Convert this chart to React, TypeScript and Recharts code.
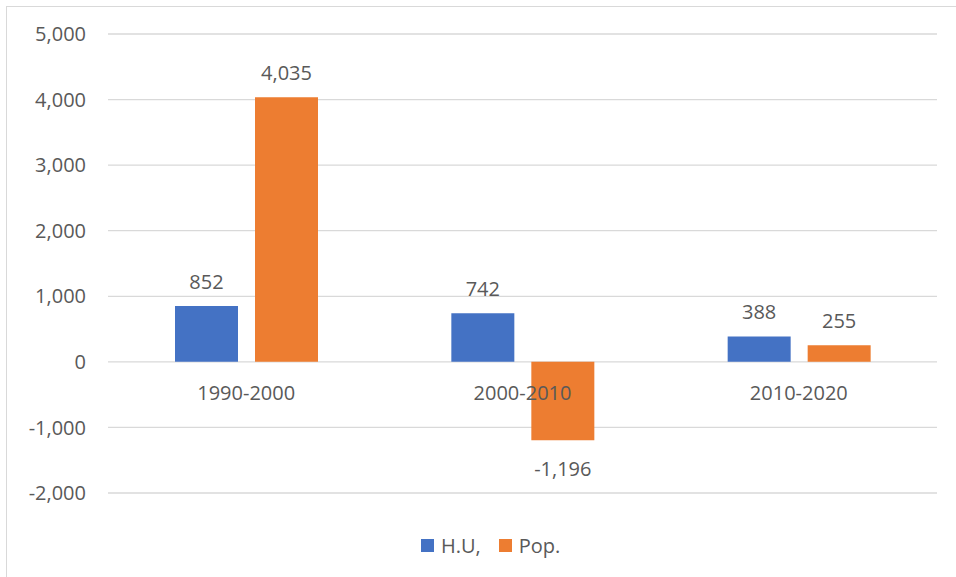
import React from "react";
import { BarChart, Bar, XAxis, YAxis, CartesianGrid, Legend, LabelList } from "recharts";

const categories = ["1990-2000", "2000-2010", "2010-2020"];
const huValues = [852, 742, 388];
const popValues = [4035, -1196, 255];
const yTicks = [-2000, -1000, 0, 1000, 2000, 3000, 4000, 5000];

const data = categories.map((c, i) => ({ period: c, hu: huValues[i], pop: popValues[i] }));

const W = 956;
const H = 577;
const M = { top: 34, right: 19, bottom: 17, left: 48 };
const LEGEND_H = 30;
const XAXIS_H = 37;
const Y_MIN = -2000;
const Y_MAX = 5000;
const plotTop = M.top;
const plotBottom = H - M.bottom - LEGEND_H - XAXIS_H;
const zeroY = plotTop + ((Y_MAX - 0) / (Y_MAX - Y_MIN)) * (plotBottom - plotTop);

const FONT = "'Open Sans', sans-serif";
const TEXT = "#595959";
const fmt = (v: number) => v.toLocaleString("en-US");

const CategoryTick = (props: any) => {
  const { x, payload } = props;
  return (
    <text x={x} y={zeroY + 38.5} textAnchor="middle" fill={TEXT} fontSize={20} fontFamily={FONT}>
      {payload.value}
    </text>
  );
};

const ValueLabel = (props: any) => {
  const { x, y, width, height, value } = props;
  const top = Math.min(y, y + height);
  const bottom = Math.max(y, y + height);
  const cx = x + width / 2;
  const ty = value >= 0 ? top - 17 : bottom + 36;
  return (
    <text x={cx} y={ty} textAnchor="middle" fill={TEXT} fontSize={20} fontFamily={FONT}>
      {fmt(value)}
    </text>
  );
};

const LegendContent = (props: any) => {
  const { payload } = props;
  return (
    <div style={{ display: "flex", alignItems: "center", height: LEGEND_H, paddingLeft: 421, fontFamily: FONT, fontSize: 20, color: TEXT }}>
      {(payload || []).map((p: any, i: number) => (
        <div key={i} style={{ display: "flex", alignItems: "center", marginRight: 18 }}>
          <span style={{ display: "inline-block", width: 13, height: 13, background: p.color, marginRight: 7 }} />
          <span>{p.value}</span>
        </div>
      ))}
    </div>
  );
};

export default function App() {
  return (
    <div style={{ position: "absolute", left: 0, top: 0, width: W, height: H, background: "#fff", overflow: "hidden" }}>
      <div style={{ position: "absolute", left: 6, top: 6, width: W, height: H, borderLeft: "1.5px solid #D9D9D9", borderTop: "1.5px solid #D9D9D9" }} />
      <BarChart width={W} height={H} data={data} margin={M} barSize={63} barGap={17}>
        <CartesianGrid vertical={false} stroke="#D9D9D9" strokeWidth={1.3} />
        <XAxis dataKey="period" height={XAXIS_H} axisLine={false} tickLine={false} tick={CategoryTick} interval={0} />
        <YAxis
          domain={[Y_MIN, Y_MAX]}
          ticks={yTicks}
          width={60}
          axisLine={false}
          tickLine={false}
          tickMargin={16}
          tickFormatter={fmt}
          tick={{ fill: TEXT, fontSize: 20, fontFamily: FONT }}
          interval={0}
        />
        <Legend verticalAlign="bottom" height={LEGEND_H} wrapperStyle={{ left: 0, width: W }} content={LegendContent} />
        <Bar dataKey="hu" name="H.U," fill="#4472C4" isAnimationActive={false}>
          <LabelList dataKey="hu" content={ValueLabel} />
        </Bar>
        <Bar dataKey="pop" name="Pop." fill="#ED7D31" isAnimationActive={false}>
          <LabelList dataKey="pop" content={ValueLabel} />
        </Bar>
      </BarChart>
    </div>
  );
}
